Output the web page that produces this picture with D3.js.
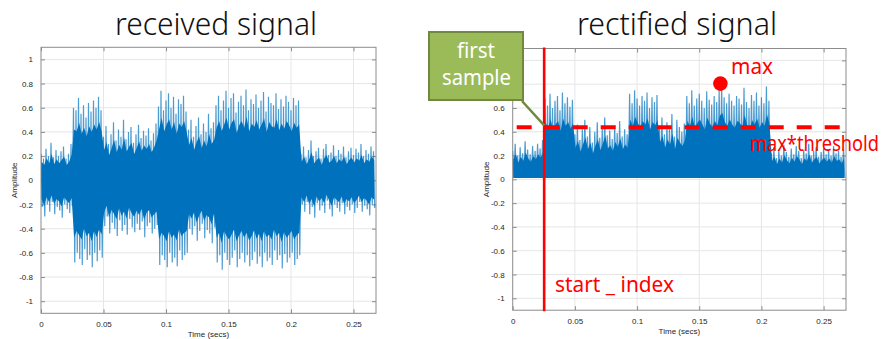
<!DOCTYPE html>
<html>
<head>
<meta charset="utf-8">
<script src="https://cdn.jsdelivr.net/npm/d3@7/dist/d3.min.js"></script>
<style>
  body { margin: 0; background: #fff; }
  svg { display: block; }
  .tick text { font-family: "Liberation Sans", Arial, sans-serif; font-size: 8px; fill: #262626; }
</style>
</head>
<body>
<div id="chart"></div>
<script>
// bins of 0.002 s (positive / negative peaks)
const BIN = 0.002;
const X_MAX = 0.268;

const recvHi = [
  0.22,0.18,0.26,0.2,0.31,0.19,0.25,0.2,0.24,0.28,0.18,0.22,0.3,
  0.6,0.58,0.68,0.55,0.62,0.52,0.64,0.57,0.66,0.6,0.69,0.58,
  0.36,0.45,0.3,0.38,0.48,0.33,0.42,0.36,0.5,0.34,0.4,0.44,0.31,0.38,0.46,0.35,0.41,0.37,0.43,0.33,0.39,0.47,
  0.61,0.74,0.58,0.66,0.72,0.6,0.69,0.55,0.67,0.63,0.7,0.57,
  0.42,0.5,0.36,0.45,0.52,0.38,0.47,0.4,0.55,0.43,0.48,
  0.62,0.7,0.58,0.66,0.74,0.6,0.68,0.72,0.56,0.65,0.7,0.62,0.75,0.58,0.67,0.63,0.71,0.6,0.66,0.73,0.57,0.69,0.64,0.62,0.72,0.59,0.67,0.61,0.7,0.65,0.58,0.68,0.62,0.66,
  0.22,0.28,0.19,0.25,0.33,0.2,0.24,0.27,0.18,0.26,0.3,0.21,0.23,0.29,0.2,0.25,0.22,0.28,0.19,0.24,0.27,0.21,0.26,0.23,0.3,0.2,0.25,0.22,0.28,0.24
];
const recvLo = [
  -0.22,-0.3,-0.2,-0.26,-0.18,-0.28,-0.22,-0.25,-0.31,-0.2,-0.24,-0.27,-0.21,
  -0.68,-0.6,-0.65,-0.7,-0.57,-0.66,-0.62,-0.72,-0.6,-0.67,-0.58,-0.64,
  -0.38,-0.3,-0.44,-0.35,-0.4,-0.46,-0.33,-0.42,-0.37,-0.45,-0.32,-0.39,-0.43,-0.36,-0.41,-0.34,-0.47,-0.38,-0.35,-0.44,-0.4,-0.37,
  -0.7,-0.62,-0.66,-0.72,-0.6,-0.68,-0.64,-0.71,-0.58,-0.66,-0.62,-0.6,
  -0.4,-0.45,-0.38,-0.5,-0.42,-0.36,-0.48,-0.41,-0.44,-0.52,-0.39,
  -0.68,-0.62,-0.74,-0.6,-0.66,-0.7,-0.64,-0.58,-0.72,-0.65,-0.6,-0.68,-0.62,-0.71,-0.66,-0.59,-0.69,-0.63,-0.72,-0.6,-0.67,-0.64,-0.7,-0.58,-0.66,-0.62,-0.73,-0.61,-0.68,-0.64,-0.6,-0.7,-0.65,-0.62,
  -0.2,-0.26,-0.18,-0.28,-0.22,-0.31,-0.19,-0.25,-0.21,-0.27,-0.17,-0.24,-0.3,-0.2,-0.23,-0.26,-0.19,-0.28,-0.22,-0.25,-0.2,-0.27,-0.23,-0.18,-0.26,-0.21,-0.24,-0.29,-0.2,-0.23
];
const rectHi = [
  0.24,0.3,0.2,0.27,0.22,0.32,0.25,0.21,0.28,0.24,0.3,0.26,0.33,
  0.68,0.62,0.72,0.6,0.66,0.7,0.58,0.73,0.64,0.69,0.61,0.67,
  0.38,0.46,0.33,0.42,0.5,0.36,0.44,0.31,0.4,0.48,0.35,0.43,0.52,0.37,0.41,0.34,0.45,0.39,0.49,0.36,0.42,0.38,
  0.72,0.64,0.75,0.68,0.62,0.7,0.66,0.73,0.6,0.69,0.65,0.71,
  0.45,0.52,0.38,0.48,0.42,0.55,0.36,0.5,0.44,0.4,0.47,
  0.7,0.64,0.75,0.62,0.68,0.72,0.66,0.6,0.74,0.67,0.63,0.7,0.65,0.76,0.8,0.69,0.64,0.72,0.66,0.62,0.7,0.68,0.63,0.77,0.65,0.6,0.71,0.66,0.73,0.62,0.69,0.64,0.78,0.66,
  0.22,0.27,0.18,0.25,0.2,0.29,0.23,0.19,0.26,0.21,0.28,0.24,0.18,0.25,0.22,0.3,0.2,0.24,0.27,0.19,0.23,0.26,0.21,0.25,0.2,0.28,0.22,0.24,0.19,0.26
];
const RECT_FLOOR = 0.012;
// share of each peak that shows as the solid dark body of the trace
const CORE_SHARE = 0.7;

const yTicks = [-1, -0.8, -0.6, -0.4, -0.2, 0, 0.2, 0.4, 0.6, 0.8, 1];
const xTicks = [0, 0.05, 0.1, 0.15, 0.2, 0.25];

// annotations of the right panel
const startIndex = 0.0253;
const maxPoint = { t: 0.167, v: 0.805 };
const threshold = 0.437;

const W = 883, H = 339;
const BLUE = "#0072BD";
const RED = "#FF0000";

const svg = d3.select("#chart").append("svg")
  .attr("width", W).attr("height", H);

function panel(left, right, top, bottom, title, titleX, titleW) {
  const x = d3.scaleLinear().domain([0, X_MAX]).range([left, right]);
  const y = d3.scaleLinear().domain([-1.1, 1.1]).range([bottom, top]);
  const g = svg.append("g");

  // grid
  g.append("g").selectAll("line").data(xTicks.filter(d => d > 0)).join("line")
    .attr("x1", d => x(d)).attr("x2", d => x(d)).attr("y1", top).attr("y2", bottom)
    .attr("stroke", "#e6e6e6");
  g.append("g").selectAll("line").data(yTicks).join("line")
    .attr("x1", left).attr("x2", right).attr("y1", d => y(d)).attr("y2", d => y(d))
    .attr("stroke", "#e6e6e6");

  const fmt = d => String(+d.toFixed(2));
  g.append("g").attr("transform", `translate(0,${bottom})`)
    .call(d3.axisBottom(x).tickValues(xTicks).tickFormat(fmt).tickSizeInner(-4).tickSizeOuter(0).tickPadding(8))
    .call(a => a.select(".domain").remove());
  g.append("g").attr("transform", `translate(0,${top})`)
    .call(d3.axisTop(x).tickValues(xTicks).tickFormat("").tickSizeInner(-4).tickSizeOuter(0))
    .call(a => a.select(".domain").remove());
  g.append("g").attr("transform", `translate(${left},0)`)
    .call(d3.axisLeft(y).tickValues(yTicks).tickFormat(fmt).tickSizeInner(-4).tickSizeOuter(0).tickPadding(8))
    .call(a => a.select(".domain").remove());
  g.append("g").attr("transform", `translate(${right},0)`)
    .call(d3.axisRight(y).tickValues(yTicks).tickFormat("").tickSizeInner(-4).tickSizeOuter(0))
    .call(a => a.select(".domain").remove());
  g.selectAll(".tick line").attr("stroke", "#8c8c8c");

  g.append("rect").attr("x", left).attr("y", top)
    .attr("width", right - left).attr("height", bottom - top)
    .attr("fill", "none").attr("stroke", "#8c8c8c");

  g.append("text").attr("x", (left + right) / 2).attr("y", bottom + 24)
    .attr("text-anchor", "middle")
    .style("font-family", "Liberation Sans, Arial, sans-serif").style("font-size", "8px").attr("fill", "#262626")
    .text("Time (secs)");
  g.append("text")
    .attr("transform", `translate(${left - 24},${(top + bottom) / 2}) rotate(-90)`)
    .attr("text-anchor", "middle")
    .style("font-family", "Liberation Sans, Arial, sans-serif").style("font-size", "8px").attr("fill", "#262626")
    .text("Amplitude");

  svg.append("text").attr("x", titleX - titleW / 2).attr("y", 35)
    .attr("textLength", titleW).attr("lengthAdjust", "spacingAndGlyphs")
    .style("font-family", "Noto Sans, sans-serif").style("font-size", "31px").style("font-weight", 300)
    .attr("fill", "#111").text(title);

  return { g, x, y };
}

function zigzag(p, hi, lo) {
  const pts = [];
  hi.forEach((v, i) => {
    pts.push([i * BIN, v]);
    pts.push([i * BIN + BIN / 2, typeof lo === "number" ? lo : lo[i]]);
  });
  return d3.line().x(d => p.x(d[0])).y(d => p.y(d[1]))(pts);
}

function core(p, hi, lo) {
  const area = d3.area()
    .x((d, i) => p.x(i * BIN + BIN / 4))
    .y0((d, i) => p.y(typeof lo === "number" ? lo : lo[i] * CORE_SHARE))
    .y1(d => p.y(d * CORE_SHARE));
  return area(hi);
}

function trace(p, hi, lo) {
  const clipId = "clip" + Math.round(p.x(0));
  p.g.append("clipPath").attr("id", clipId).append("rect")
    .attr("x", p.x(0)).attr("y", p.y(1.1)).attr("width", p.x(X_MAX) - p.x(0)).attr("height", p.y(-1.1) - p.y(1.1));
  const s = p.g.append("g").attr("clip-path", `url(#${clipId})`);
  s.append("path").attr("d", zigzag(p, hi, lo))
    .attr("fill", "none").attr("stroke", BLUE).attr("stroke-width", 1.2).attr("stroke-opacity", 0.7);
  s.append("path").attr("d", core(p, hi, lo)).attr("fill", BLUE);
}

// left: received signal
const L = panel(41, 376, 47.3, 313.3, "received signal", 216, 202);
trace(L, recvHi, recvLo);

// right: rectified signal
const R = panel(512.7, 846, 48.5, 310.2, "rectified signal", 677, 200);
trace(R, rectHi, RECT_FLOOR);

// threshold dashed line
R.g.append("line")
  .attr("x1", R.x(0) + 4).attr("x2", R.x(X_MAX) - 6)
  .attr("y1", R.y(threshold)).attr("y2", R.y(threshold))
  .attr("stroke", RED).attr("stroke-width", 4).attr("stroke-dasharray", "15,13");
// start index line
R.g.append("line")
  .attr("x1", R.x(startIndex)).attr("x2", R.x(startIndex))
  .attr("y1", R.y(1.1) - 1).attr("y2", R.y(-1.1) + 1)
  .attr("stroke", RED).attr("stroke-width", 2.6);
// max marker
R.g.append("circle").attr("cx", R.x(maxPoint.t)).attr("cy", R.y(maxPoint.v)).attr("r", 7.3).attr("fill", RED);

function label(x, y, w, txt, color) {
  return svg.append("text").attr("x", x).attr("y", y)
    .attr("textLength", w).attr("lengthAdjust", "spacingAndGlyphs")
    .style("font-family", "Noto Sans, sans-serif").style("font-size", "21px").attr("fill", color)
    .text(txt);
}
label(731, 74, 42, "max", RED);
label(750, 151, 129, "max*threshold", RED);
label(555, 292, 119, "start _ index", RED);

// callout
svg.append("line").attr("x1", 522).attr("y1", 101).attr("x2", R.x(startIndex)).attr("y2", R.y(threshold) - 2)
  .attr("stroke", "#71893F").attr("stroke-width", 2.5);
svg.append("rect").attr("x", 429).attr("y", 32).attr("width", 94).attr("height", 68)
  .attr("fill", "#9BBB59").attr("stroke", "#71893F").attr("stroke-width", 2);
label(457, 58, 38, "first", "#fff");
label(442, 85, 69, "sample", "#fff");
</script>
</body>
</html>
